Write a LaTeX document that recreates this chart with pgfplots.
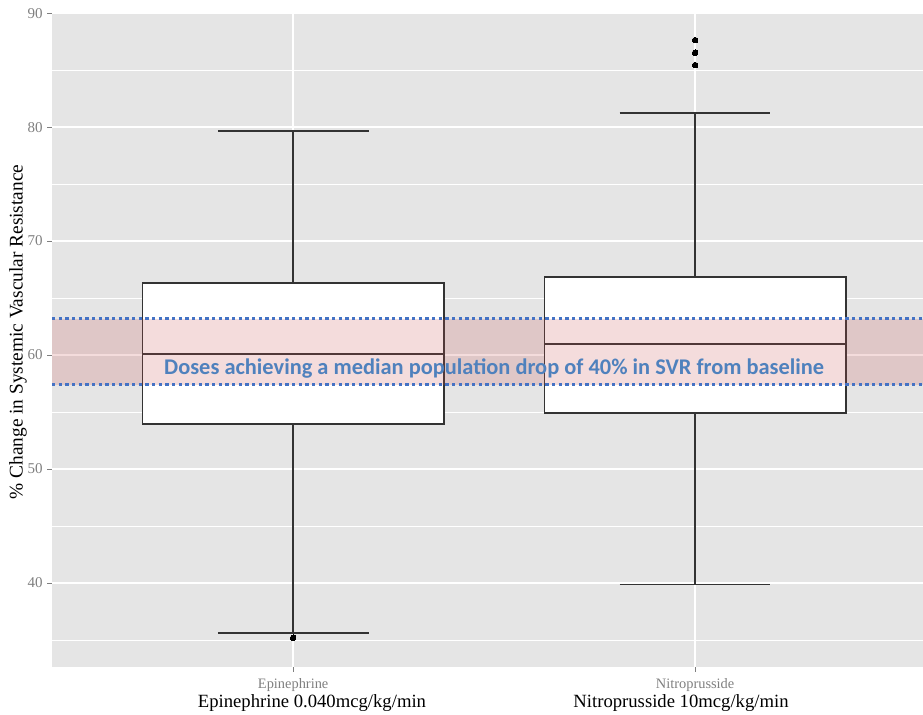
\documentclass[border=0pt]{standalone}
\usepackage{fontspec}
\setmainfont{Liberation Serif}
\newfontfamily\notefont{Carlito}
\usepackage{pgfplots}
\pgfplotsset{compat=1.18}
\usepgfplotslibrary{statistics}

\definecolor{panel}{HTML}{E5E5E5}
\definecolor{ticktext}{HTML}{7F7F7F}
\definecolor{boxline}{HTML}{333333}
\definecolor{bandfill}{RGB}{200,80,80}
\definecolor{dotblue}{HTML}{4472C4}
\definecolor{noteblue}{HTML}{4F81BD}

\begin{document}
\begin{tikzpicture}
\begin{axis}[
  scale only axis,
  width=653.25pt, height=491.25pt,
  xmin=0.4, xmax=2.567,
  ymin=32.63, ymax=90.1,
  clip mode=individual,
  axis background/.style={fill=panel},
  axis line style={draw=none},
  tick pos=left,
  xtick={1,2},
  xticklabels={Epinephrine, Nitroprusside},
  xticklabel style={text=ticktext, font=\fontsize{10.8}{13.5}\selectfont, yshift=-1.5pt},
  ytick={40,50,...,90},
  minor ytick={35,45,...,85},
  grid=both,
  major grid style={white, line width=1pt},
  minor grid style={white, line width=0.5pt},
  tick align=outside,
  major tick length=3.5pt,
  minor tick length=0pt,
  tick style={ticktext, line width=0.75pt},
  yticklabel style={text=ticktext, font=\fontsize{11.25}{13}\selectfont},
  /pgf/number format/assume math mode=true,
  ylabel={\% Change in Systemic Vascular Resistance},
  ylabel style={at={(axis description cs:-0.039,0.5114)}, anchor=center,
                font=\fontsize{14.5}{16}\selectfont},
  boxplot/draw direction=y,
]

% Epinephrine 0.040 mcg/kg/min
\addplot[boxplot prepared={draw position=1,
    lower whisker=35.61, lower quartile=53.95, median=60.09,
    upper quartile=66.32, upper whisker=79.65,
    box extend=0.75, whisker extend=0.375},
  draw=boxline, fill=white, line width=1.1pt,
  mark=*, mark size=2.1pt, mark options={fill=black, draw=black, line width=0pt}]
  coordinates {(1,35.2)};

% Nitroprusside 10 mcg/kg/min
\addplot[boxplot prepared={draw position=2,
    lower whisker=39.89, lower quartile=54.91, median=60.96,
    upper quartile=66.84, upper whisker=81.23,
    box extend=0.75, whisker extend=0.375},
  draw=boxline, fill=white, line width=1.1pt,
  mark=*, mark size=2.1pt, mark options={fill=black, draw=black, line width=0pt}]
  coordinates {(2,85.44) (2,86.52) (2,87.63)};

% target band: median population drop of 40% in SVR
\addplot[draw=none, fill=bandfill, fill opacity=0.2]
  coordinates {(0.4,57.4) (2.567,57.4) (2.567,63.2) (0.4,63.2)} -- cycle;
\addplot[dotblue, line width=2.5pt, dash pattern=on 2.5pt off 2.5pt]
  coordinates {(0.4,63.2) (2.567,63.2)};
\addplot[dotblue, line width=2.5pt, dash pattern=on 2.5pt off 2.5pt]
  coordinates {(0.4,57.4) (2.567,57.4)};

\node[font=\notefont\bfseries\fontsize{16.8}{18}\selectfont, text=noteblue]
  at (axis cs:1.5,58.8) {Doses achieving a median population drop of 40\% in SVR from baseline};

% dose captions under the category names
\node[font=\fontsize{14}{16}\selectfont, anchor=base]
  at (axis description cs:0.2985,-0.0621) {Epinephrine 0.040mcg/kg/min};
\node[font=\fontsize{14}{16}\selectfont, anchor=base]
  at (axis description cs:0.7222,-0.0621) {Nitroprusside 10mcg/kg/min};
\end{axis}
\pgfresetboundingbox
\path ([xshift=-39pt,yshift=-35.25pt]current axis.south west)
  rectangle ([yshift=9pt]current axis.north east);
\end{tikzpicture}
\end{document}
